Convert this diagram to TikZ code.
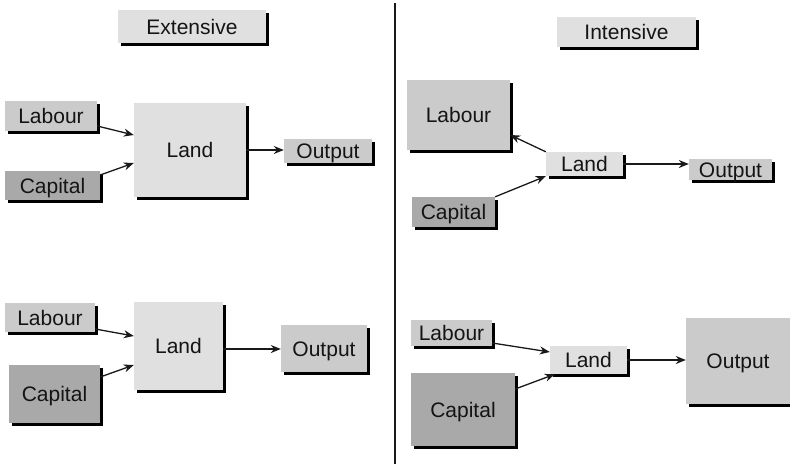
\documentclass[tikz,border=0pt]{standalone}
\usepackage{fontspec}
\setmainfont{Liberation Sans}
\usetikzlibrary{shadows,arrows.meta}
\definecolor{palegray}{HTML}{E0E0E0}
\definecolor{midgray}{HTML}{CBCBCB}
\definecolor{darkgray}{HTML}{A9A9A9}
\tikzset{
  box/.style={rectangle, inner sep=0pt, text height=15pt, text depth=0pt,
    text=black!92,
    general shadow={fill=black, shadow xshift=3pt, shadow yshift=-3pt}},
  pale/.style={box, fill=palegray},
  mid/.style={box, fill=midgray},
  dark/.style={box, fill=darkgray},
  feed/.style={-{Stealth[length=10pt,width=8pt]}, line width=1.3pt, black!90},
}
\begin{document}
\begin{tikzpicture}[x=1pt, y=-1pt, font=\fontsize{21}{25}\selectfont]
        \useasboundingbox (0,0) rectangle (790,464);
        %% divider
        \draw[line width=2.5pt, black!90] (395,3) -- (395,464);
        %% titles
        \node[pale, minimum width=148pt, minimum height=33pt] (exttitle) at (192,26.5) {Extensive};
        \node[pale, minimum width=139pt, minimum height=30pt] (inttitle) at (626.5,31.5) {Intensive};

        %% extensive, upper
        \node[mid,  minimum width=92pt,  minimum height=30pt] (lab1)  at (51,116)    {Labour};
        \node[dark, minimum width=95pt,  minimum height=29pt] (cap1)  at (52.5,185.5) {Capital};
        \node[pale, minimum width=112pt, minimum height=94pt] (land1) at (190,150)   {Land};
        \node[mid,  minimum width=88pt,  minimum height=24pt] (out1)  at (328,151)   {Output};
        \draw[feed] ([yshift=-10pt]lab1.east) -- ([yshift=15pt]land1.west);
        \draw[feed] ([yshift=10.5pt]cap1.east) -- ([yshift=-13pt]land1.west);
        \draw[feed] (land1.east) -- (land1.east -| out1.west);

        %% intensive, upper
        \node[mid,  minimum width=103pt, minimum height=70pt] (lab2)  at (458.5,115)  {Labour};
        \node[dark, minimum width=83pt,  minimum height=30pt] (cap2)  at (453.5,212)  {Capital};
        \node[pale, minimum width=77pt,  minimum height=24pt] (land2) at (584.5,164)  {Land};
        \node[mid,  minimum width=83pt,  minimum height=21pt] (out2)  at (730.5,169.5) {Output};
        \draw[feed] (land2.north west) -- ([yshift=-20pt]lab2.east);
        \draw[feed] (cap2.north east) -- (land2.south west);
        \draw[feed] (land2.east) -- (land2.east -| out2.west);

        %% extensive, lower
        \node[mid,  minimum width=90pt,  minimum height=29pt] (lab3)  at (50,317.5)  {Labour};
        \node[dark, minimum width=91pt,  minimum height=58pt] (cap3)  at (54.5,394)  {Capital};
        \node[pale, minimum width=89pt,  minimum height=88pt] (land3) at (178.5,346) {Land};
        \node[mid,  minimum width=86pt,  minimum height=47pt] (out3)  at (324,348.5) {Output};
        \draw[feed] ([yshift=-11.5pt]lab3.east) -- ([yshift=10pt]land3.west);
        \draw[feed] ([yshift=17pt]cap3.east) -- ([yshift=-19pt]land3.west);
        \draw[feed] ([yshift=-3pt]land3.east) -- ([yshift=-3pt]land3.east -| out3.west);

        %% intensive, lower
        \node[mid,  minimum width=81pt,  minimum height=26pt] (lab4)  at (451.5,333) {Labour};
        \node[dark, minimum width=104pt, minimum height=73pt] (cap4)  at (463,409.5) {Capital};
        \node[pale, minimum width=77pt,  minimum height=28pt] (land4) at (588.5,360) {Land};
        \node[mid,  minimum width=104pt, minimum height=86pt] (out4)  at (738,361)   {Output};
        \draw[feed] ([yshift=-10pt]lab4.east) -- ([yshift=8pt]land4.west);
        \draw[feed] ([yshift=20.5pt]cap4.east) -- ([xshift=5pt]land4.south west);
        \draw[feed] (land4.east) -- (land4.east -| out4.west);
\end{tikzpicture}
\end{document}
